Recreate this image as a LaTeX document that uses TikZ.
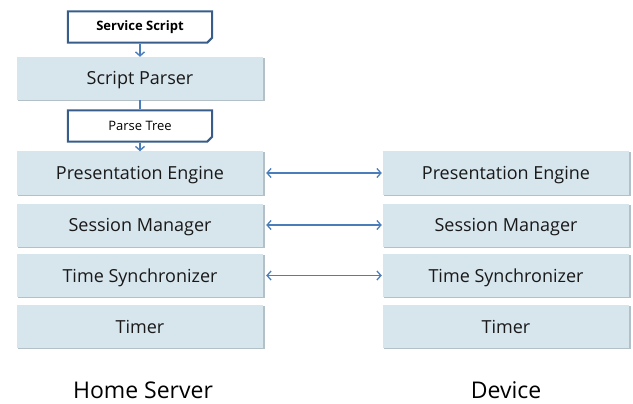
\documentclass[tikz,border=0pt]{standalone}
\usepackage{fontspec}
\setmainfont{Open Sans}
\usetikzlibrary{arrows.meta}
\definecolor{boxfill}{HTML}{D7E5ED}
\definecolor{boxshade}{HTML}{B4C0C8}
\definecolor{docedge}{HTML}{385D8A}
\definecolor{linkcol}{HTML}{4A7EBB}
\tikzset{
  layer/.style={fill=boxfill, minimum width=246pt, minimum height=43pt,
    inner sep=0pt, text height=13pt, text depth=0pt,
    font=\fontsize{18}{21}\selectfont, text=black!90},
  shade/.style={fill=boxshade},
  docbox/.style={minimum width=144pt, minimum height=31pt, inner sep=0pt,
    text=black},
  docline/.style={draw=docedge, line width=2pt, fill=white, line join=miter},
  link/.style={draw=linkcol, line width=1.3pt,
    {Straight Barb[length=4pt,width=9pt]}-{Straight Barb[length=4pt,width=9pt]}},
  feed/.style={draw=linkcol, line width=1.4pt, -{Straight Barb[length=4pt,width=9pt]}},
  side/.style={font=\fontsize{23}{27}\selectfont, text=black}
}
\begin{document}
\begin{tikzpicture}[x=1pt,y=-1pt]
\useasboundingbox (0,0) rectangle (633,404);

% shading behind the layer boxes
\foreach \xc/\yc in {140/78.5, 140/173, 140/225, 140/275.5, 140/326.5,
                     506/173, 506/225, 506/275.5, 506/326.5}
  \fill[shade] (\xc-122,\yc-20.5) rectangle (\xc+124.5,\yc+22.5);

% left stack
\node[layer] (parser) at (140,78.5) {Script Parser};
\node[layer] (pe1) at (140,173) {Presentation Engine};
\node[layer] (sm1) at (140,225) {Session Manager};
\node[layer] (ts1) at (140,275.5) {Time Synchronizer};
\node[layer] (tm1) at (140,326.5) {Timer};

% right stack
\node[layer] (pe2) at (506,173) {Presentation Engine};
\node[layer] (sm2) at (506,225) {Session Manager};
\node[layer] (ts2) at (506,275.5) {Time Synchronizer};
\node[layer] (tm2) at (506,326.5) {Timer};

% document shapes with a clipped corner
\node[docbox] (ss) at (140,27) {};
\draw[docline] (ss.north west) -- (ss.north east) -- ([yshift=5pt]ss.south east)
  -- ([xshift=-5pt]ss.south east) -- (ss.south west) -- cycle;
\node[docbox, font=\fontsize{13}{15}\selectfont\bfseries] at (ss.center) {Service Script};

\node[docbox] (pt) at (140,126) {};
\draw[docline] (pt.north west) -- (pt.north east) -- ([yshift=5pt]pt.south east)
  -- ([xshift=-5pt]pt.south east) -- (pt.south west) -- cycle;
\node[docbox, font=\fontsize{13}{15}\selectfont] at (pt.center) {Parse Tree};

% processing flow
\draw[feed] ([yshift=-1pt]ss.south) -- (parser.north);
\draw[draw=linkcol, line width=1.4pt] (parser.south) -- ([yshift=1pt]pt.north);
\draw[feed] ([yshift=-1pt]pt.south) -- (pe1.north);

% peer links
\draw[link] ([xshift=3pt]pe1.east) -- ([xshift=-1pt]pe2.west);
\draw[link] ([xshift=3pt]sm1.east) -- ([xshift=-1pt]sm2.west);
\draw[link] ([xshift=3pt]ts1.east) -- ([xshift=-1pt]ts2.west);

% side captions
\node[side] (hs) at (143,390) {Home Server};
\node[side] (dv) at (506,390) {Device};
\end{tikzpicture}
\end{document}
